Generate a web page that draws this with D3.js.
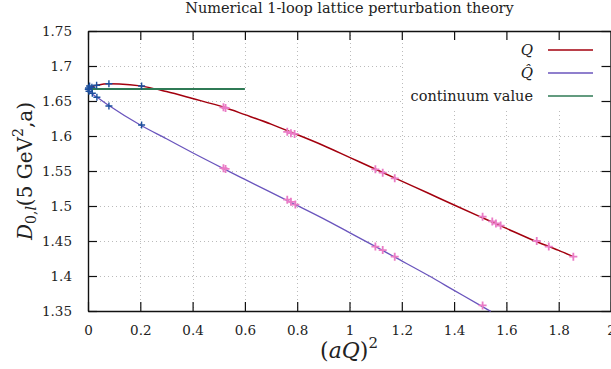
<!DOCTYPE html>
<html>
<head>
<meta charset="utf-8">
<script src="https://cdn.jsdelivr.net/npm/d3@7"></script>
<style>
  body { margin: 0; background: #fff; }
  text { font-family: "DejaVu Serif", serif; fill: #222; }
</style>
</head>
<body>
<script>
var width = 611;
var height = 369;
var margin = {left: 88, right: 0, top: 31, bottom: 58};

// axis ticks
var xTicks = [0, 0.2, 0.4, 0.6, 0.8, 1, 1.2, 1.4, 1.6, 1.8, 2];
var yTicks = [1.35, 1.4, 1.45, 1.5, 1.55, 1.6, 1.65, 1.7, 1.75];

// fitted curves
var qCurveX = [0, 0.02, 0.04, 0.08, 0.12, 0.2, 0.3, 0.4, 0.52, 0.6, 0.7, 0.78, 0.9, 1.0, 1.1, 1.17, 1.3, 1.4, 1.5, 1.6, 1.7, 1.8, 1.856];
var qCurveY = [1.667, 1.671, 1.673, 1.6747, 1.6744, 1.6716, 1.6635, 1.6535, 1.641, 1.6305, 1.617, 1.605, 1.5865, 1.5695, 1.5525, 1.5405, 1.5185, 1.5015, 1.4847, 1.468, 1.4515, 1.4366, 1.4276];
var qhatCurveX = [0, 0.02, 0.04, 0.08, 0.2, 0.3, 0.4, 0.52, 0.6, 0.78, 0.9, 1.0, 1.1, 1.17, 1.3, 1.4, 1.5, 1.54];
var qhatCurveY = [1.666, 1.659, 1.654, 1.6435, 1.6157, 1.596, 1.576, 1.553, 1.538, 1.5045, 1.482, 1.462, 1.442, 1.4276, 1.401, 1.3795, 1.358, 1.3495];
var contX = [0, 0.6];
var contY = [1.667, 1.667];

// small (aQ)^2 data points (blue crosses)
var smallQX = [0.002, 0.006, 0.015, 0.033, 0.080, 0.205];
var smallQY = [1.6686, 1.6714, 1.6696, 1.6724, 1.6747, 1.6714];
var smallQhatX = [0.001, 0.004, 0.0165, 0.034, 0.080, 0.205];
var smallQhatY = [1.6667, 1.664, 1.661, 1.6553, 1.6429, 1.6157];

// larger (aQ)^2 data points (pink crosses)
var bigQX = [0.518, 0.526, 0.762, 0.776, 0.790, 1.099, 1.127, 1.173, 1.509, 1.546, 1.560, 1.578, 1.716, 1.762, 1.856];
var bigQY = [1.641, 1.640, 1.606, 1.604, 1.603, 1.5524, 1.5476, 1.5396, 1.4847, 1.478, 1.475, 1.472, 1.450, 1.442, 1.4276];
var bigQhatX = [0.518, 0.526, 0.762, 0.776, 0.793, 1.099, 1.127, 1.173, 1.509];
var bigQhatY = [1.554, 1.553, 1.509, 1.506, 1.502, 1.442, 1.437, 1.4276, 1.358];

var legendNames = ["Q", "Q\u0302", "continuum value"];
var colors = {q: "#a3000e", qhat: "#6a55bd", cont: "#2f7a55", small: "#1c4f9e", big: "#ea7cc6"};

var x = d3.scaleLinear().domain([0, 2]).range([margin.left, width - margin.right]);
var y = d3.scaleLinear().domain([1.35, 1.75]).range([height - margin.bottom, margin.top]);

var svg = d3.select("body").append("svg")
  .attr("width", width).attr("height", height);

// grid
var grid = svg.append("g").attr("stroke", "#bbb").attr("stroke-width", 1).attr("stroke-dasharray", "1,3");
grid.selectAll(".gx").data(xTicks.slice(1, -1)).enter().append("line")
  .attr("x1", function (d) { return Math.round(x(d)) + 0.5; })
  .attr("x2", function (d) { return Math.round(x(d)) + 0.5; })
  .attr("y1", y(1.75)).attr("y2", y(1.35));
grid.selectAll(".gy").data(yTicks.slice(1, -1)).enter().append("line")
  .attr("y1", function (d) { return Math.round(y(d)) + 0.5; })
  .attr("y2", function (d) { return Math.round(y(d)) + 0.5; })
  .attr("x1", x(0)).attr("x2", x(2));

// legend background hides the grid
svg.append("rect").attr("x", 403).attr("y", y(1.75) + 1).attr("width", 207).attr("height", 76).attr("fill", "#fff");

// axes with inward ticks on every side
var tickLen = 9;
svg.append("g").attr("transform", "translate(0," + y(1.35) + ")")
  .call(d3.axisBottom(x).tickValues(xTicks).tickSizeInner(-tickLen).tickSizeOuter(0).tickPadding(14).tickFormat(d3.format("~g")));
svg.append("g").attr("transform", "translate(0," + y(1.75) + ")")
  .call(d3.axisTop(x).tickValues(xTicks).tickSizeInner(-tickLen).tickSizeOuter(0).tickFormat(""));
svg.append("g").attr("transform", "translate(" + x(0) + ",0)")
  .call(d3.axisLeft(y).tickValues(yTicks).tickSizeInner(-tickLen).tickSizeOuter(0).tickPadding(16).tickFormat(d3.format("~g")));
svg.append("g").attr("transform", "translate(" + (x(2) - 0.5) + ",0)")
  .call(d3.axisRight(y).tickValues(yTicks).tickSizeInner(-tickLen).tickSizeOuter(0).tickFormat(""));

svg.selectAll("g").attr("font-family", null);
svg.selectAll(".tick line").attr("stroke", "#111").attr("stroke-width", 1.2);
svg.selectAll(".domain").attr("stroke", "#111").attr("stroke-width", 1.4);
svg.selectAll(".tick text").style("font-family", "'DejaVu Serif', serif").style("font-size", "13.5px").attr("fill", "#222");

// curves
var line = d3.line().x(function (d) { return x(d[0]); }).y(function (d) { return y(d[1]); }).curve(d3.curveMonotoneX);
function pairs(xs, ys) { return xs.map(function (v, i) { return [v, ys[i]]; }); }

var plot = svg.append("g");
plot.append("path").datum(pairs(qhatCurveX, qhatCurveY)).attr("d", line)
  .attr("fill", "none").attr("stroke", colors.qhat).attr("stroke-width", 1.3);
plot.append("path").datum(pairs(qCurveX, qCurveY)).attr("d", line)
  .attr("fill", "none").attr("stroke", colors.q).attr("stroke-width", 1.5);
plot.append("path").datum(pairs(contX, contY)).attr("d", line)
  .attr("fill", "none").attr("stroke", colors.cont).attr("stroke-width", 2);

// cross markers
function crosses(data, color, s, w) {
  plot.selectAll(null).data(data).enter().append("path")
    .attr("d", function (d) {
      var cx = x(d[0]), cy = y(d[1]);
      return "M" + (cx - s) + "," + cy + "H" + (cx + s) + "M" + cx + "," + (cy - s) + "V" + (cy + s);
    })
    .attr("stroke", color).attr("stroke-width", w).attr("fill", "none");
}
crosses(pairs(bigQX, bigQY), colors.big, 4, 1.8);
crosses(pairs(bigQhatX, bigQhatY), colors.big, 4, 1.8);
crosses(pairs(smallQX, smallQY), colors.small, 3.5, 1.4);
crosses(pairs(smallQhatX, smallQhatY), colors.small, 3.5, 1.4);

// legend
var legColors = [colors.q, colors.qhat, colors.cont];
var legY = [50, 73, 96];
legendNames.forEach(function (name, i) {
  svg.append("text").attr("x", 533).attr("y", legY[i] + 5).attr("text-anchor", "end")
    .style("font-size", i < 2 ? "15px" : "14.5px").style("font-style", i < 2 ? "italic" : "normal")
    .text(name);
  svg.append("line").attr("x1", 548).attr("x2", 593).attr("y1", legY[i]).attr("y2", legY[i])
    .attr("stroke", legColors[i]).attr("stroke-width", 1.5);
});

// title
svg.append("text").attr("x", (x(0) + x(2)) / 2).attr("y", 13).attr("text-anchor", "middle")
  .style("font-size", "14.5px").text("Numerical 1-loop lattice perturbation theory");

// x label
var xl = svg.append("text").attr("x", 349).attr("y", 358).attr("text-anchor", "middle").style("font-size", "22px");
xl.append("tspan").text("(");
xl.append("tspan").style("font-style", "italic").text("aQ");
xl.append("tspan").text(")");
xl.append("tspan").attr("dy", -10).style("font-size", "15px").text("2");

// y label
var yl = svg.append("text").attr("transform", "translate(32," + ((y(1.35) + y(1.75)) / 2) + ") rotate(-90)")
  .attr("text-anchor", "middle").style("font-size", "20px");
yl.append("tspan").style("font-style", "italic").text("D");
yl.append("tspan").attr("dy", 4).style("font-size", "14px").text("0,");
yl.append("tspan").style("font-size", "14px").style("font-style", "italic").text("l");
yl.append("tspan").attr("dy", -4).text("(5 GeV");
yl.append("tspan").attr("dy", -9).style("font-size", "14px").text("2");
yl.append("tspan").attr("dy", 9).text(",a)");
</script>
</body>
</html>
